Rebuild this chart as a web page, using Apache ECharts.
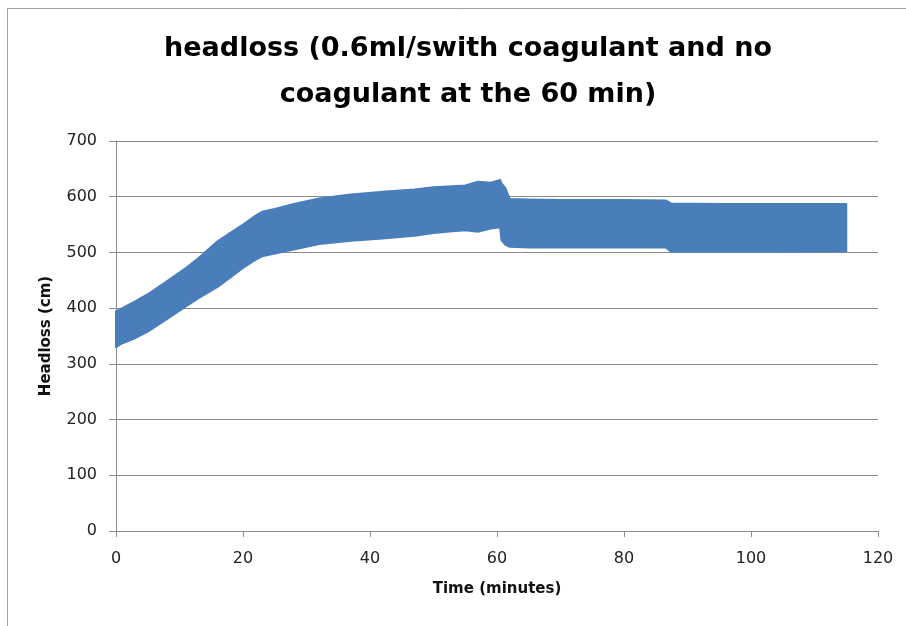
<!DOCTYPE html>
<html>
<head>
<meta charset="utf-8">
<script src="https://cdn.jsdelivr.net/npm/echarts@6/dist/echarts.min.js"></script>
<style>
  html, body { margin: 0; padding: 0; background: #fff; }
  #chart { width: 906px; height: 626px; }
</style>
</head>
<body>
<div id="chart"></div>
<script>
// outline of the dense marker band
const timeMin = [0, 1, 3, 5, 8, 11, 13, 16, 18, 20, 22, 23, 25, 28, 32, 37, 42, 47, 50, 53, 55, 57, 59, 60.5, 60.7, 61.3, 62, 65, 70, 75, 80, 86.6, 87.4, 95, 105, 115]
const upperCm = [394, 400, 412, 425, 448, 472, 490, 520, 535, 550, 566, 573, 578, 587, 597, 604, 609, 613, 617, 619, 620, 627, 625, 630, 624, 616, 596, 595, 594, 594, 594, 593, 588, 587, 587, 587]
const lowerCm = [330, 337, 346, 358, 380, 403, 418, 438, 455, 472, 487, 493, 498, 505, 515, 521, 525, 530, 535, 538, 540, 537, 543, 545, 522, 514, 510, 509, 509, 509, 509, 509, 501, 501, 501, 502]

const titleText = 'headloss (0.6ml/swith coagulant and no\ncoagulant at the 60 min)'
const blue = '#4A7EBB'
const axisGray = '#8a8a8a'
const font = 'DejaVu Sans'

const chart = echarts.init(document.getElementById('chart'))

// draws the whole band as one polygon: upper edge left to right, lower edge back
function renderBand(params, api) {
  if (params.dataIndex !== 0) return { type: 'group', children: [] }
  const top = timeMin.map((t, i) => api.coord([t, upperCm[i]]))
  const bottom = timeMin.map((t, i) => api.coord([t, lowerCm[i]])).reverse()
  return {
    type: 'polygon',
    shape: { points: top.concat(bottom) },
    style: { fill: blue, stroke: blue, lineWidth: 2, lineJoin: 'round' },
  }
}

chart.setOption({
  animation: false,
  title: {
    text: titleText,
    left: 463,
    top: 21,
    textAlign: 'center',
    textStyle: { fontFamily: font, fontSize: 27, fontWeight: 'bold', color: '#000', lineHeight: 46 },
  },
  grid: { left: 116, right: 28, top: 141, bottom: 95 },
  xAxis: {
    type: 'value',
    min: 0,
    max: 120,
    interval: 20,
    name: 'Time (minutes)',
    nameLocation: 'middle',
    nameGap: 51,
    nameTextStyle: { fontFamily: font, fontSize: 15, fontWeight: 'bold', color: '#111' },
    axisLine: { lineStyle: { color: axisGray } },
    axisTick: { length: 6, lineStyle: { color: axisGray } },
    axisLabel: { fontFamily: font, fontSize: 16, color: '#222', margin: 20 },
    splitLine: { show: false },
  },
  yAxis: {
    type: 'value',
    min: 0,
    max: 700,
    interval: 100,
    name: 'Headloss (cm)',
    nameLocation: 'middle',
    nameGap: 62,
    nameTextStyle: { fontFamily: font, fontSize: 15, fontWeight: 'bold', color: '#111' },
    axisLine: { show: true, lineStyle: { color: axisGray } },
    axisTick: { show: true, length: 7, lineStyle: { color: axisGray } },
    axisLabel: { fontFamily: font, fontSize: 16, color: '#222', margin: 19 },
    splitLine: { lineStyle: { color: axisGray } },
  },
  graphic: [
    { type: 'line', shape: { x1: 7, y1: 8.5, x2: 906, y2: 8.5 }, style: { stroke: '#a0a0a0', lineWidth: 1 } },
    { type: 'line', shape: { x1: 7.5, y1: 8, x2: 7.5, y2: 626 }, style: { stroke: '#a0a0a0', lineWidth: 1 } },
  ],
  series: [
    {
      name: 'headloss',
      type: 'custom',
      renderItem: renderBand,
      encode: { x: 0, y: [1, 2] },
      data: timeMin.map((t, i) => [t, lowerCm[i], upperCm[i]]),
      z: 2,
    },
  ],
})
</script>
</body>
</html>
